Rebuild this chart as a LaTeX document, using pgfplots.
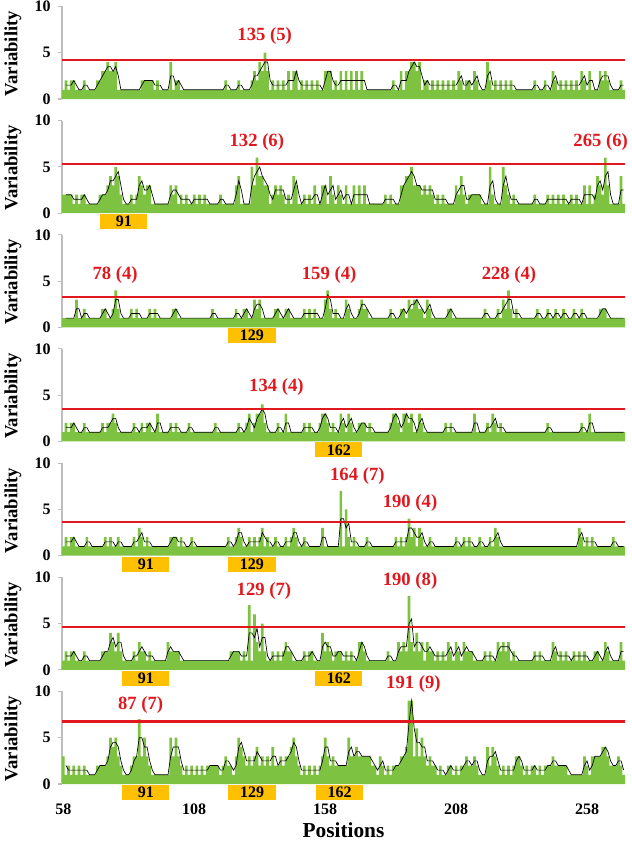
\documentclass[border=0pt]{standalone}
\usepackage{fontspec}
\setmainfont{Liberation Serif}
\usepackage{pgfplots}
\usepackage{pgfplotstable}
\pgfplotsset{compat=1.18}
\definecolor{bargreen}{RGB}{126,194,66}
\definecolor{thred}{RGB}{225,25,30}
\definecolor{boxorange}{RGB}{255,192,0}
\definecolor{axisgray}{RGB}{190,190,190}

\pgfplotstableread[row sep=\\]{
x v m\\
58 1 nan\\59 2 1.5\\60 1 1.5\\61 2 1.5\\62 2 2\\63 1 1.5\\64 1 1\\65 1 1\\66 2 1.5\\67 1 1.5\\
68 1 1\\69 1 1\\70 1 1\\71 2 1.5\\72 2 2\\73 3 2.5\\74 3 3\\75 4 3.5\\76 3 3.5\\77 3 3\\
78 4 3.5\\79 1 2.5\\80 1 1\\81 1 1\\82 1 1\\83 1 1\\84 1 1\\85 1 1\\86 1 1\\87 1 1\\
88 2 1.5\\89 2 2\\90 2 2\\91 2 2\\92 2 2\\93 1 1.5\\94 2 1.5\\95 1 1.5\\96 1 1\\97 1 1\\
98 1 1\\99 4 2.5\\100 1 2.5\\101 2 1.5\\102 2 2\\103 1 1.5\\104 1 1\\105 1 1\\106 1 1\\107 1 1\\
108 1 1\\109 1 1\\110 1 1\\111 1 1\\112 1 1\\113 1 1\\114 1 1\\115 1 1\\116 1 1\\117 1 1\\
118 1 1\\119 1 1\\120 2 1.5\\121 1 1.5\\122 1 1\\123 1 1\\124 1 1\\125 2 1.5\\126 1 1.5\\127 1 1\\
128 1 1\\129 1 1\\130 2 1.5\\131 3 2.5\\132 2 2.5\\133 4 3\\134 3 3.5\\135 5 4\\136 3 4\\137 1 2\\
138 2 1.5\\139 1 1.5\\140 2 1.5\\141 1 1.5\\142 2 1.5\\143 1 1.5\\144 3 2\\145 1 2\\146 3 2\\147 3 3\\
148 1 2\\149 2 1.5\\150 1 1.5\\151 2 1.5\\152 1 1.5\\153 2 1.5\\154 1 1.5\\155 2 1.5\\156 1 1.5\\157 1 1\\
158 3 2\\159 3 3\\160 3 3\\161 1 2\\162 2 1.5\\163 1 1.5\\164 3 2\\165 1 2\\166 3 2\\167 1 2\\
168 3 2\\169 1 2\\170 3 2\\171 1 2\\172 3 2\\173 1 2\\174 1 1\\175 1 1\\176 1 1\\177 1 1\\
178 1 1\\179 1 1\\180 1 1\\181 1 1\\182 1 1\\183 1 1\\184 2 1.5\\185 1 1.5\\186 1 1\\187 3 2\\
188 1 2\\189 3 2\\190 3 3\\191 4 3.5\\192 4 4\\193 3 3.5\\194 4 3.5\\195 1 2.5\\196 2 1.5\\197 2 2\\
198 1 1.5\\199 2 1.5\\200 1 1.5\\201 2 1.5\\202 1 1.5\\203 2 1.5\\204 1 1.5\\205 2 1.5\\206 1 1.5\\207 2 1.5\\
208 1 1.5\\209 3 2\\210 2 2.5\\211 1 1.5\\212 2 1.5\\213 2 2\\214 1 1.5\\215 3 2\\216 2 2.5\\217 1 1.5\\
218 1 1\\219 1 1\\220 4 2.5\\221 2 3\\222 1 1.5\\223 2 1.5\\224 1 1.5\\225 2 1.5\\226 1 1.5\\227 2 1.5\\
228 1 1.5\\229 2 1.5\\230 1 1.5\\231 1 1\\232 1 1\\233 1 1\\234 1 1\\235 1 1\\236 1 1\\237 1 1\\
238 2 1.5\\239 1 1.5\\240 1 1\\241 1 1\\242 2 1.5\\243 1 1.5\\244 1 1\\245 3 2\\246 2 2.5\\247 1 1.5\\
248 2 1.5\\249 1 1.5\\250 2 1.5\\251 1 1.5\\252 2 1.5\\253 1 1.5\\254 2 1.5\\255 1 1.5\\256 3 2\\257 2 2.5\\
258 1 1.5\\259 3 2\\260 1 2\\261 1 1\\262 1 1\\263 3 2\\264 2 2.5\\265 3 2.5\\266 2 2.5\\267 1 1.5\\
268 1 1\\269 1 1\\270 1 1\\271 2 1.5\\272 1 1.5\\
}\PA

\pgfplotstableread[row sep=\\]{
x v m\\
58 2 nan\\59 2 2\\60 2 2\\61 2 2\\62 1 1.5\\63 2 1.5\\64 1 1.5\\65 2 1.5\\66 2 2\\67 1 1.5\\
68 1 1\\69 1 1\\70 1 1\\71 1 1\\72 2 1.5\\73 2 2\\74 2 2\\75 3 2.5\\76 4 3.5\\77 3 3.5\\
78 5 4\\79 4 4.5\\80 2 3\\81 1 1.5\\82 1 1\\83 1 1\\84 2 1.5\\85 1 1.5\\86 2 1.5\\87 4 3\\
88 3 3.5\\89 2 2.5\\90 3 2.5\\91 3 3\\92 1 2\\93 1 1\\94 1 1\\95 1 1\\96 1 1\\97 1 1\\
98 1 1\\99 3 2\\100 2 2.5\\101 3 2.5\\102 1 2\\103 2 1.5\\104 1 1.5\\105 2 1.5\\106 1 1.5\\107 1 1\\
108 2 1.5\\109 1 1.5\\110 2 1.5\\111 1 1.5\\112 2 1.5\\113 1 1.5\\114 1 1\\115 1 1\\116 1 1\\117 1 1\\
118 2 1.5\\119 1 1.5\\120 1 1\\121 1 1\\122 1 1\\123 1 1\\124 3 2\\125 4 3.5\\126 1 2.5\\127 1 1\\
128 1 1\\129 1 1\\130 5 3\\131 3 4\\132 6 4.5\\133 4 5\\134 4 4\\135 3 3.5\\136 3 3\\137 1 2\\
138 2 1.5\\139 3 2.5\\140 2 2.5\\141 3 2.5\\142 2 2.5\\143 1 1.5\\144 2 1.5\\145 1 1.5\\146 4 2.5\\147 3 3.5\\
148 1 2\\149 1 1\\150 2 1.5\\151 1 1.5\\152 2 1.5\\153 1 1.5\\154 3 2\\155 1 2\\156 1 1\\157 3 2\\
158 3 3\\159 1 2\\160 4 2.5\\161 2 3\\162 1 1.5\\163 3 2\\164 2 2.5\\165 1 1.5\\166 3 2\\167 1 2\\
168 1 1\\169 3 2\\170 1 2\\171 3 2\\172 1 2\\173 3 2\\174 1 2\\175 1 1\\176 1 1\\177 1 1\\
178 1 1\\179 1 1\\180 1 1\\181 2 1.5\\182 1 1.5\\183 2 1.5\\184 1 1.5\\185 1 1\\186 1 1\\187 3 2\\
188 3 3\\189 4 3.5\\190 4 4\\191 5 4.5\\192 3 4\\193 3 3\\194 3 3\\195 2 2.5\\196 3 2.5\\197 2 2.5\\
198 3 2.5\\199 2 2.5\\200 1 1.5\\201 2 1.5\\202 1 1.5\\203 2 1.5\\204 1 1.5\\205 1 1\\206 1 1\\207 1 1\\
208 3 2\\209 2 2.5\\210 4 3\\211 2 3\\212 1 1.5\\213 2 1.5\\214 2 2\\215 2 2\\216 2 2\\217 2 2\\
218 1 1.5\\219 1 1\\220 1 1\\221 5 3\\222 2 3.5\\223 1 1.5\\224 1 1\\225 1 1\\226 5 3\\227 3 4\\
228 2 2.5\\229 1 1.5\\230 2 1.5\\231 1 1.5\\232 1 1\\233 1 1\\234 1 1\\235 1 1\\236 1 1\\237 1 1\\
238 2 1.5\\239 1 1.5\\240 1 1\\241 1 1\\242 1 1\\243 2 1.5\\244 1 1.5\\245 2 1.5\\246 1 1.5\\247 2 1.5\\
248 1 1.5\\249 2 1.5\\250 1 1.5\\251 1 1\\252 2 1.5\\253 1 1.5\\254 2 1.5\\255 1 1.5\\256 1 1\\257 3 2\\
258 1 2\\259 3 2\\260 1 2\\261 2 1.5\\262 4 3\\263 3 3.5\\264 2 2.5\\265 6 4\\266 3 4.5\\267 1 2\\
268 1 1\\269 1 1\\270 1 1\\271 4 2.5\\272 1 2.5\\
}\PB

\pgfplotstableread[row sep=\\]{
x v m\\
58 1 nan\\59 1 1\\60 1 1\\61 1 1\\62 1 1\\63 3 2\\64 1 2\\65 1 1\\66 2 1.5\\67 1 1.5\\
68 1 1\\69 1 1\\70 1 1\\71 1 1\\72 1 1\\73 2 1.5\\74 2 2\\75 1 1.5\\76 1 1\\77 2 1.5\\
78 4 3\\79 2 3\\80 1 1.5\\81 1 1\\82 1 1\\83 1 1\\84 2 1.5\\85 1 1.5\\86 2 1.5\\87 1 1.5\\
88 1 1\\89 1 1\\90 1 1\\91 2 1.5\\92 1 1.5\\93 2 1.5\\94 1 1.5\\95 1 1\\96 1 1\\97 1 1\\
98 1 1\\99 1 1\\100 2 1.5\\101 2 2\\102 1 1.5\\103 1 1\\104 1 1\\105 1 1\\106 1 1\\107 1 1\\
108 1 1\\109 1 1\\110 1 1\\111 1 1\\112 1 1\\113 1 1\\114 1 1\\115 2 1.5\\116 1 1.5\\117 1 1\\
118 1 1\\119 1 1\\120 1 1\\121 1 1\\122 1 1\\123 1 1\\124 2 1.5\\125 1 1.5\\126 1 1\\127 2 1.5\\
128 2 2\\129 1 1.5\\130 1 1\\131 3 2\\132 2 2.5\\133 3 2.5\\134 1 2\\135 1 1\\136 1 1\\137 1 1\\
138 1 1\\139 2 1.5\\140 2 2\\141 1 1.5\\142 1 1\\143 2 1.5\\144 2 2\\145 1 1.5\\146 1 1\\147 1 1\\
148 1 1\\149 1 1\\150 2 1.5\\151 1 1.5\\152 2 1.5\\153 1 1.5\\154 2 1.5\\155 1 1.5\\156 1 1\\157 1 1\\
158 3 2\\159 4 3.5\\160 2 3\\161 1 1.5\\162 2 1.5\\163 1 1.5\\164 1 1\\165 1 1\\166 3 2\\167 2 2.5\\
168 1 1.5\\169 1 1\\170 1 1\\171 2 1.5\\172 3 2.5\\173 2 2.5\\174 2 2\\175 1 1.5\\176 1 1\\177 1 1\\
178 1 1\\179 1 1\\180 1 1\\181 1 1\\182 1 1\\183 2 1.5\\184 1 1.5\\185 1 1\\186 1 1\\187 2 1.5\\
188 2 2\\189 1 1.5\\190 3 2\\191 2 2.5\\192 3 2.5\\193 3 3\\194 2 2.5\\195 2 2\\196 1 1.5\\197 3 2\\
198 2 2.5\\199 1 1.5\\200 1 1\\201 1 1\\202 1 1\\203 1 1\\204 1 1\\205 2 1.5\\206 2 2\\207 1 1.5\\
208 1 1\\209 1 1\\210 1 1\\211 1 1\\212 1 1\\213 1 1\\214 1 1\\215 1 1\\216 1 1\\217 1 1\\
218 1 1\\219 2 1.5\\220 1 1.5\\221 1 1\\222 1 1\\223 1 1\\224 2 1.5\\225 1 1.5\\226 3 2\\227 2 2.5\\
228 4 3\\229 2 3\\230 1 1.5\\231 2 1.5\\232 1 1.5\\233 1 1\\234 1 1\\235 1 1\\236 1 1\\237 1 1\\
238 1 1\\239 2 1.5\\240 1 1.5\\241 1 1\\242 1 1\\243 2 1.5\\244 1 1.5\\245 1 1\\246 2 1.5\\247 1 1.5\\
248 1 1\\249 2 1.5\\250 1 1.5\\251 1 1\\252 1 1\\253 2 1.5\\254 1 1.5\\255 1 1\\256 2 1.5\\257 1 1.5\\
258 1 1\\259 1 1\\260 1 1\\261 1 1\\262 1 1\\263 2 1.5\\264 2 2\\265 2 2\\266 1 1.5\\267 1 1\\
268 1 1\\269 1 1\\270 1 1\\271 1 1\\272 1 1\\
}\PC

\pgfplotstableread[row sep=\\]{
x v m\\
58 1 nan\\59 2 1.5\\60 1 1.5\\61 2 1.5\\62 2 2\\63 1 1.5\\64 1 1\\65 1 1\\66 2 1.5\\67 1 1.5\\
68 1 1\\69 1 1\\70 1 1\\71 1 1\\72 1 1\\73 2 1.5\\74 1 1.5\\75 2 1.5\\76 2 2\\77 3 2.5\\
78 2 2.5\\79 1 1.5\\80 1 1\\81 1 1\\82 1 1\\83 1 1\\84 1 1\\85 2 1.5\\86 1 1.5\\87 1 1\\
88 2 1.5\\89 1 1.5\\90 2 1.5\\91 2 2\\92 1 1.5\\93 1 1\\94 3 2\\95 1 2\\96 1 1\\97 1 1\\
98 1 1\\99 2 1.5\\100 1 1.5\\101 2 1.5\\102 1 1.5\\103 1 1\\104 1 1\\105 1 1\\106 2 1.5\\107 1 1.5\\
108 1 1\\109 1 1\\110 1 1\\111 1 1\\112 1 1\\113 1 1\\114 1 1\\115 1 1\\116 2 1.5\\117 1 1.5\\
118 1 1\\119 1 1\\120 1 1\\121 1 1\\122 1 1\\123 1 1\\124 1 1\\125 2 1.5\\126 1 1.5\\127 1 1\\
128 2 1.5\\129 3 2.5\\130 1 2\\131 2 1.5\\132 3 2.5\\133 3 3\\134 4 3.5\\135 2 3\\136 1 1.5\\137 1 1\\
138 1 1\\139 1 1\\140 2 1.5\\141 1 1.5\\142 1 1\\143 3 2\\144 1 2\\145 1 1\\146 1 1\\147 1 1\\
148 1 1\\149 1 1\\150 2 1.5\\151 1 1.5\\152 2 1.5\\153 1 1.5\\154 1 1\\155 1 1\\156 2 1.5\\157 3 2.5\\
158 3 3\\159 2 2.5\\160 1 1.5\\161 2 1.5\\162 1 1.5\\163 1 1\\164 3 2\\165 2 2.5\\166 1 1.5\\167 3 2\\
168 2 2.5\\169 1 1.5\\170 1 1\\171 2 1.5\\172 2 2\\173 2 2\\174 1 1.5\\175 2 1.5\\176 1 1.5\\177 1 1\\
178 1 1\\179 1 1\\180 1 1\\181 1 1\\182 1 1\\183 2 1.5\\184 3 2.5\\185 3 3\\186 2 2.5\\187 1 1.5\\
188 3 2\\189 3 3\\190 2 2.5\\191 3 2.5\\192 1 2\\193 1 1\\194 3 2\\195 2 2.5\\196 1 1.5\\197 1 1\\
198 1 1\\199 1 1\\200 1 1\\201 1 1\\202 1 1\\203 1 1\\204 2 1.5\\205 1 1.5\\206 2 1.5\\207 1 1.5\\
208 1 1\\209 1 1\\210 1 1\\211 1 1\\212 1 1\\213 1 1\\214 1 1\\215 3 2\\216 1 2\\217 1 1\\
218 1 1\\219 1 1\\220 2 1.5\\221 1 1.5\\222 3 2\\223 2 2.5\\224 1 1.5\\225 2 1.5\\226 1 1.5\\227 1 1\\
228 1 1\\229 1 1\\230 1 1\\231 1 1\\232 1 1\\233 1 1\\234 1 1\\235 1 1\\236 1 1\\237 1 1\\
238 1 1\\239 1 1\\240 1 1\\241 1 1\\242 1 1\\243 2 1.5\\244 1 1.5\\245 1 1\\246 1 1\\247 1 1\\
248 1 1\\249 1 1\\250 1 1\\251 1 1\\252 1 1\\253 1 1\\254 1 1\\255 1 1\\256 2 1.5\\257 1 1.5\\
258 1 1\\259 3 2\\260 1 2\\261 1 1\\262 1 1\\263 1 1\\264 1 1\\265 1 1\\266 1 1\\267 1 1\\
268 1 1\\269 1 1\\270 1 1\\271 1 1\\272 1 1\\
}\PD

\pgfplotstableread[row sep=\\]{
x v m\\
58 1 nan\\59 2 1.5\\60 1 1.5\\61 2 1.5\\62 2 2\\63 1 1.5\\64 1 1\\65 1 1\\66 1 1\\67 2 1.5\\
68 1 1.5\\69 1 1\\70 1 1\\71 1 1\\72 1 1\\73 1 1\\74 2 1.5\\75 1 1.5\\76 2 1.5\\77 1 1.5\\
78 1 1\\79 2 1.5\\80 1 1.5\\81 1 1\\82 1 1\\83 1 1\\84 1 1\\85 2 1.5\\86 1 1.5\\87 3 2\\
88 2 2.5\\89 1 1.5\\90 2 1.5\\91 1 1.5\\92 1 1\\93 1 1\\94 1 1\\95 1 1\\96 1 1\\97 1 1\\
98 1 1\\99 2 1.5\\100 2 2\\101 2 2\\102 1 1.5\\103 2 1.5\\104 1 1.5\\105 1 1\\106 1 1\\107 2 1.5\\
108 1 1.5\\109 1 1\\110 1 1\\111 1 1\\112 1 1\\113 1 1\\114 1 1\\115 1 1\\116 1 1\\117 1 1\\
118 1 1\\119 1 1\\120 1 1\\121 2 1.5\\122 1 1.5\\123 1 1\\124 2 1.5\\125 3 2.5\\126 2 2.5\\127 1 1.5\\
128 1 1\\129 2 1.5\\130 1 1.5\\131 2 1.5\\132 1 1.5\\133 2 1.5\\134 3 2.5\\135 1 2\\136 2 1.5\\137 1 1.5\\
138 1 1\\139 2 1.5\\140 1 1.5\\141 1 1\\142 1 1\\143 2 1.5\\144 1 1.5\\145 2 1.5\\146 3 2.5\\147 2 2.5\\
148 1 1.5\\149 1 1\\150 2 1.5\\151 1 1.5\\152 1 1\\153 1 1\\154 1 1\\155 1 1\\156 1 1\\157 3 2\\
158 1 2\\159 1 1\\160 1 1\\161 1 1\\162 1 1\\163 1 1\\164 7 4\\165 1 4\\166 5 3\\167 2 3.5\\
168 1 1.5\\169 2 1.5\\170 1 1.5\\171 1 1\\172 1 1\\173 1 1\\174 2 1.5\\175 1 1.5\\176 1 1\\177 1 1\\
178 1 1\\179 1 1\\180 1 1\\181 1 1\\182 1 1\\183 1 1\\184 1 1\\185 2 1.5\\186 1 1.5\\187 2 1.5\\
188 1 1.5\\189 2 1.5\\190 4 3\\191 2 3\\192 3 2.5\\193 1 2\\194 3 2\\195 2 2.5\\196 1 1.5\\197 1 1\\
198 2 1.5\\199 1 1.5\\200 1 1\\201 1 1\\202 1 1\\203 1 1\\204 1 1\\205 1 1\\206 1 1\\207 1 1\\
208 2 1.5\\209 1 1.5\\210 1 1\\211 2 1.5\\212 1 1.5\\213 2 1.5\\214 1 1.5\\215 1 1\\216 1 1\\217 2 1.5\\
218 1 1.5\\219 1 1\\220 1 1\\221 2 1.5\\222 1 1.5\\223 3 2\\224 2 2.5\\225 1 1.5\\226 1 1\\227 1 1\\
228 1 1\\229 1 1\\230 1 1\\231 1 1\\232 1 1\\233 1 1\\234 1 1\\235 1 1\\236 1 1\\237 1 1\\
238 1 1\\239 1 1\\240 1 1\\241 1 1\\242 1 1\\243 1 1\\244 1 1\\245 1 1\\246 1 1\\247 1 1\\
248 1 1\\249 1 1\\250 1 1\\251 1 1\\252 1 1\\253 1 1\\254 1 1\\255 3 2\\256 2 2.5\\257 1 1.5\\
258 2 1.5\\259 1 1.5\\260 2 1.5\\261 1 1.5\\262 1 1\\263 1 1\\264 1 1\\265 1 1\\266 1 1\\267 1 1\\
268 2 1.5\\269 1 1.5\\270 1 1\\271 1 1\\272 1 1\\
}\PE

\pgfplotstableread[row sep=\\]{
x v m\\
58 1 nan\\59 2 1.5\\60 1 1.5\\61 2 1.5\\62 2 2\\63 1 1.5\\64 1 1\\65 1 1\\66 2 1.5\\67 1 1.5\\
68 1 1\\69 1 1\\70 1 1\\71 1 1\\72 1 1\\73 2 1.5\\74 2 2\\75 2 2\\76 4 3\\77 3 3.5\\
78 2 2.5\\79 4 3\\80 2 3\\81 1 1.5\\82 1 1\\83 1 1\\84 1 1\\85 2 1.5\\86 1 1.5\\87 3 2\\
88 2 2.5\\89 2 2\\90 1 1.5\\91 2 1.5\\92 1 1.5\\93 1 1\\94 1 1\\95 1 1\\96 1 1\\97 1 1\\
98 3 2\\99 2 2.5\\100 2 2\\101 2 2\\102 2 2\\103 1 1.5\\104 1 1\\105 1 1\\106 1 1\\107 1 1\\
108 1 1\\109 1 1\\110 1 1\\111 1 1\\112 1 1\\113 1 1\\114 1 1\\115 1 1\\116 1 1\\117 1 1\\
118 1 1\\119 1 1\\120 1 1\\121 1 1\\122 2 1.5\\123 2 2\\124 2 2\\125 2 2\\126 1 1.5\\127 2 1.5\\
128 1 1.5\\129 7 4\\130 1 4\\131 6 3.5\\132 3 4.5\\133 2 2.5\\134 5 3.5\\135 2 3.5\\136 1 1.5\\137 1 1\\
138 2 1.5\\139 1 1.5\\140 2 1.5\\141 1 1.5\\142 2 1.5\\143 3 2.5\\144 2 2.5\\145 2 2\\146 1 1.5\\147 1 1\\
148 1 1\\149 1 1\\150 2 1.5\\151 1 1.5\\152 2 1.5\\153 2 2\\154 1 1.5\\155 1 1\\156 1 1\\157 4 2.5\\
158 2 3\\159 3 2.5\\160 2 2.5\\161 1 1.5\\162 2 1.5\\163 2 2\\164 2 2\\165 1 1.5\\166 2 1.5\\167 1 1.5\\
168 2 1.5\\169 1 1.5\\170 1 1\\171 3 2\\172 3 3\\173 2 2.5\\174 1 1.5\\175 1 1\\176 1 1\\177 1 1\\
178 1 1\\179 1 1\\180 1 1\\181 1 1\\182 2 1.5\\183 1 1.5\\184 1 1\\185 1 1\\186 3 2\\187 2 2.5\\
188 3 2.5\\189 2 2.5\\190 8 5\\191 3 5.5\\192 2 2.5\\193 4 3\\194 2 3\\195 3 2.5\\196 1 2\\197 3 2\\
198 2 2.5\\199 2 2\\200 1 1.5\\201 2 1.5\\202 1 1.5\\203 2 1.5\\204 1 1.5\\205 3 2\\206 2 2.5\\207 1 1.5\\
208 3 2\\209 2 2.5\\210 1 1.5\\211 3 2\\212 2 2.5\\213 2 2\\214 2 2\\215 1 1.5\\216 1 1\\217 1 1\\
218 1 1\\219 2 1.5\\220 1 1.5\\221 2 1.5\\222 1 1.5\\223 1 1\\224 3 2\\225 2 2.5\\226 3 2.5\\227 2 2.5\\
228 3 2.5\\229 1 2\\230 2 1.5\\231 1 1.5\\232 1 1\\233 1 1\\234 1 1\\235 1 1\\236 1 1\\237 1 1\\
238 2 1.5\\239 1 1.5\\240 2 1.5\\241 1 1.5\\242 1 1\\243 1 1\\244 1 1\\245 3 2\\246 2 2.5\\247 1 1.5\\
248 2 1.5\\249 1 1.5\\250 2 1.5\\251 1 1.5\\252 1 1\\253 2 1.5\\254 1 1.5\\255 2 1.5\\256 1 1.5\\257 2 1.5\\
258 1 1.5\\259 1 1\\260 1 1\\261 2 1.5\\262 2 2\\263 1 1.5\\264 1 1\\265 3 2\\266 2 2.5\\267 1 1.5\\
268 1 1\\269 1 1\\270 1 1\\271 3 2\\272 1 2\\
}\PF

\pgfplotstableread[row sep=\\]{
x v m\\
58 3 nan\\59 1 2\\60 2 1.5\\61 1 1.5\\62 2 1.5\\63 1 1.5\\64 2 1.5\\65 1 1.5\\66 2 1.5\\67 1 1.5\\
68 1 1\\69 1 1\\70 1 1\\71 2 1.5\\72 2 2\\73 2 2\\74 2 2\\75 3 2.5\\76 5 4\\77 4 4.5\\
78 5 4.5\\79 3 4\\80 2 2.5\\81 1 1.5\\82 1 1\\83 1 1\\84 2 1.5\\85 3 2.5\\86 3 3\\87 7 5\\
88 3 5\\89 5 4\\90 3 4\\91 2 2.5\\92 1 1.5\\93 1 1\\94 1 1\\95 1 1\\96 1 1\\97 1 1\\
98 1 1\\99 5 3\\100 3 4\\101 5 4\\102 3 4\\103 2 2.5\\104 1 1.5\\105 2 1.5\\106 1 1.5\\107 2 1.5\\
108 1 1.5\\109 2 1.5\\110 1 1.5\\111 2 1.5\\112 1 1.5\\113 2 1.5\\114 2 2\\115 2 2\\116 2 2\\117 2 2\\
118 1 1.5\\119 2 1.5\\120 3 2.5\\121 2 2.5\\122 2 2\\123 1 1.5\\124 3 2\\125 5 4\\126 4 4.5\\127 3 3.5\\
128 2 2.5\\129 3 2.5\\130 2 2.5\\131 3 2.5\\132 4 3.5\\133 2 3\\134 3 2.5\\135 2 2.5\\136 3 2.5\\137 2 2.5\\
138 4 3\\139 2 3\\140 2 2\\141 3 2.5\\142 2 2.5\\143 3 2.5\\144 3 3\\145 4 3.5\\146 5 4.5\\147 3 4\\
148 2 2.5\\149 1 1.5\\150 2 1.5\\151 1 1.5\\152 2 1.5\\153 1 1.5\\154 2 1.5\\155 1 1.5\\156 2 1.5\\157 3 2.5\\
158 5 4\\159 3 4\\160 2 2.5\\161 3 2.5\\162 2 2.5\\163 2 2\\164 2 2\\165 2 2\\166 2 2\\167 5 3.5\\
168 3 4\\169 3 3\\170 4 3.5\\171 3 3.5\\172 3 3\\173 3 3\\174 3 3\\175 3 3\\176 2 2.5\\177 2 2\\
178 1 1.5\\179 3 2\\180 2 2.5\\181 1 1.5\\182 2 1.5\\183 1 1.5\\184 2 1.5\\185 2 2\\186 2 2\\187 3 2.5\\
188 3 3\\189 4 3.5\\190 9 6.5\\191 9 9\\192 3 6\\193 6 4.5\\194 3 4.5\\195 5 4\\196 3 4\\197 2 2.5\\
198 3 2.5\\199 2 2.5\\200 2 2\\201 1 1.5\\202 2 1.5\\203 1 1.5\\204 1 1\\205 2 1.5\\206 2 2\\207 1 1.5\\
208 2 1.5\\209 1 1.5\\210 2 1.5\\211 2 2\\212 3 2.5\\213 2 2.5\\214 2 2\\215 3 2.5\\216 2 2.5\\217 1 1.5\\
218 1 1\\219 1 1\\220 4 2.5\\221 2 3\\222 4 3\\223 3 3.5\\224 2 2.5\\225 1 1.5\\226 2 1.5\\227 1 1.5\\
228 2 1.5\\229 1 1.5\\230 2 1.5\\231 3 2.5\\232 3 3\\233 2 2.5\\234 1 1.5\\235 2 1.5\\236 1 1.5\\237 2 1.5\\
238 2 2\\239 1 1.5\\240 2 1.5\\241 1 1.5\\242 2 1.5\\243 2 2\\244 2 2\\245 3 2.5\\246 2 2.5\\247 2 2\\
248 2 2\\249 2 2\\250 2 2\\251 1 1.5\\252 1 1\\253 1 1\\254 1 1\\255 1 1\\256 1 1\\257 3 2\\
258 2 2.5\\259 1 1.5\\260 3 2\\261 3 3\\262 3 3\\263 3 3\\264 4 3.5\\265 4 4\\266 3 3.5\\267 2 2.5\\
268 2 2\\269 2 2\\270 3 2.5\\271 2 2.5\\272 1 1.5\\
}\PG

\pgfplotsset{
  panel/.style={
    anchor=south west, scale only axis, width=422.25pt, height=69.4pt,
    xmin=57.5, xmax=272.5, ymin=0, ymax=10,
    axis lines*=left,
    x axis line style={draw=none},
    y axis line style={draw=axisgray, line width=0.8pt},
    ytick={0,5,10}, xtick=\empty,
    ytick style={draw=axisgray, line width=0.8pt},
    xtick style={draw=none},
    tick align=outside, major tick length=3pt,
    clip=false,
    /pgf/number format/assume math mode=true,
    ticklabel style={font=\fontsize{12}{14}\selectfont\bfseries},
    yticklabel style={xshift=-2pt},
    ylabel={Variability},
    ylabel style={font=\fontsize{14}{16}\selectfont\bfseries, at={(axis description cs:-0.087,0.49)}, anchor=center},
  },
  greenbars/.style={ybar, bar width=1.03, fill=bargreen, draw=none},
  maline/.style={black, line width=0.5pt, mark=none},
  thline/.style={thred, line width=1.6pt, mark=none},
}
\tikzset{
  lab/.style={text=thred, font=\fontsize{14}{16}\selectfont\bfseries, inner sep=0pt},
  boxl/.style={font=\fontsize{12}{14}\selectfont\bfseries, inner sep=0pt},
}

\begin{document}
\begin{tikzpicture}
\path[use as bounding box] (0pt,0pt) rectangle (474pt,-632.25pt);

% Panel 1
\begin{axis}[panel, at={(46.5pt,-74.25pt)}]
\addplot[greenbars] table[x=x,y=v] {\PA};
\addplot[maline] table[x=x,y=m] {\PA};
\addplot[thline] coordinates {(57.5,4.2) (272.5,4.2)};
\node[lab] at (axis cs:134.9,6.8) {135 (5)};
\end{axis}

% Panel 2
\begin{axis}[panel, at={(46.5pt,-159.9pt)}]
\addplot[greenbars] table[x=x,y=v] {\PB};
\addplot[maline] table[x=x,y=m] {\PB};
\addplot[thline] coordinates {(57.5,5.3) (272.5,5.3)};
\node[lab] at (axis cs:131.9,7.7) {132 (6)};
\node[lab] at (axis cs:263.2,7.7) {265 (6)};
\fill[boxorange] (axis cs:72.1,-0.1) rectangle (axis cs:90.1,-1.72);
\node[boxl] at (axis cs:81.1,-0.91) {91};
\end{axis}

% Panel 3
\begin{axis}[panel, at={(46.5pt,-245.5pt)}]
\addplot[greenbars] table[x=x,y=v] {\PC};
\addplot[maline] table[x=x,y=m] {\PC};
\addplot[thline] coordinates {(57.5,3.25) (272.5,3.25)};
\node[lab] at (axis cs:77.8,5.67) {78 (4)};
\node[lab] at (axis cs:159.5,5.67) {159 (4)};
\node[lab] at (axis cs:228.2,5.67) {228 (4)};
\fill[boxorange] (axis cs:120.9,-0.1) rectangle (axis cs:139.2,-1.72);
\node[boxl] at (axis cs:130.05,-0.91) {129};
\end{axis}

% Panel 4
\begin{axis}[panel, at={(46.5pt,-331.1pt)}]
\addplot[greenbars] table[x=x,y=v] {\PD};
\addplot[maline] table[x=x,y=m] {\PD};
\addplot[thline] coordinates {(57.5,3.5) (272.5,3.5)};
\node[lab] at (axis cs:139.4,5.85) {134 (4)};
\fill[boxorange] (axis cs:154.3,-0.1) rectangle (axis cs:172.1,-1.72);
\node[boxl] at (axis cs:163.2,-0.91) {162};
\end{axis}

% Panel 5
\begin{axis}[panel, at={(46.5pt,-416.8pt)}]
\addplot[greenbars] table[x=x,y=v] {\PE};
\addplot[maline] table[x=x,y=m] {\PE};
\addplot[thline] coordinates {(57.5,3.6) (272.5,3.6)};
\node[lab] at (axis cs:170.3,8.6) {164 (7)};
\node[lab] at (axis cs:190.4,5.66) {190 (4)};
\fill[boxorange] (axis cs:80.6,-0.1) rectangle (axis cs:98.5,-1.72);
\node[boxl] at (axis cs:89.55,-0.91) {91};
\fill[boxorange] (axis cs:120.9,-0.1) rectangle (axis cs:139.2,-1.72);
\node[boxl] at (axis cs:130.05,-0.91) {129};
\end{axis}

% Panel 6
\begin{axis}[panel, at={(46.5pt,-502.4pt)}]
\addplot[greenbars] table[x=x,y=v] {\PF};
\addplot[maline] table[x=x,y=m] {\PF};
\addplot[thline] coordinates {(57.5,4.6) (272.5,4.6)};
\node[lab] at (axis cs:134.6,8.5) {129 (7)};
\node[lab] at (axis cs:190.4,9.6) {190 (8)};
\fill[boxorange] (axis cs:80.6,-0.1) rectangle (axis cs:98.5,-1.72);
\node[boxl] at (axis cs:89.55,-0.91) {91};
\fill[boxorange] (axis cs:154.3,-0.1) rectangle (axis cs:172.1,-1.72);
\node[boxl] at (axis cs:163.2,-0.91) {162};
\end{axis}

% Panel 7
\begin{axis}[panel, at={(46.5pt,-588pt)},
  xtick={58,108,158,208,258},
  xticklabel style={yshift=-8.5pt},
  xlabel={Positions},
  xlabel style={font=\fontsize{16}{18}\selectfont\bfseries, at={(axis description cs:0.5,-0.5)}, anchor=center}]
\addplot[greenbars] table[x=x,y=v] {\PG};
\addplot[maline] table[x=x,y=m] {\PG};
\addplot[thline] coordinates {(57.5,6.75) (272.5,6.75)};
\node[lab] at (axis cs:87.5,8.5) {87 (7)};
\node[lab] at (axis cs:191.7,10.8) {191 (9)};
\fill[boxorange] (axis cs:80.5,-0.1) rectangle (axis cs:98.5,-1.72);
\node[boxl] at (axis cs:89.5,-0.91) {91};
\fill[boxorange] (axis cs:121,-0.1) rectangle (axis cs:139.3,-1.72);
\node[boxl] at (axis cs:130.15,-0.91) {129};
\fill[boxorange] (axis cs:154.6,-0.1) rectangle (axis cs:172.5,-1.72);
\node[boxl] at (axis cs:163.55,-0.91) {162};
\end{axis}
\end{tikzpicture}
\end{document}
